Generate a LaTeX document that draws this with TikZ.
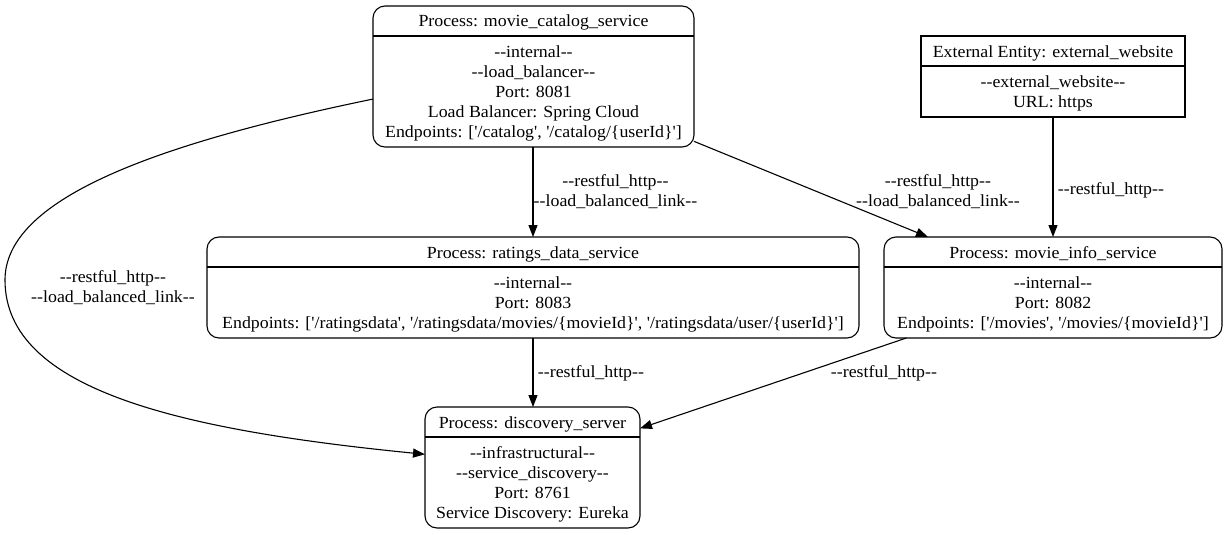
\documentclass[tikz,border=0pt]{standalone}
\usepackage{fontspec}
\newfontfamily\gv{Liberation Serif}[FakeStretch=1.05]
\usetikzlibrary{arrows.meta,calc}
\begin{document}
\begin{tikzpicture}[x=1pt,y=-1pt,
  box/.style={draw,line width=1.1pt,inner sep=0pt,outer sep=0pt},
  proc/.style={box,rounded corners=12pt},
  ttl/.style={anchor=base,inner sep=0pt,font=\gv\fontsize{17}{20}\selectfont},
  bodytxt/.style={anchor=base,inner sep=0pt,align=center,font=\gv\fontsize{17}{20}\selectfont},
  lbl/.style={inner sep=0pt,align=center,font=\gv\fontsize{17}{19.5}\selectfont},
  flow/.style={line width=1.1pt,-{Triangle[length=12pt,width=9pt]}},
  divline/.style={line width=1.1pt}]
\useasboundingbox (0,0) rectangle (1228,535);

% movie_catalog_service
\node[proc, minimum width=321pt, minimum height=141pt] (cat) at (533.5,76.5) {};
\draw[divline] ($(cat.north west)+(0,30)$) -- ($(cat.north east)+(0,30)$);
\node[ttl] (catT) at ($(cat.north)+(0,21)$) {Process: movie\_catalog\_service};
\node[bodytxt] (catB) at ($(cat.north)+(0,131)$) {-\kern0pt-internal-\kern0pt-\\-\kern0pt-load\_balancer-\kern0pt-\\Port: 8081\\Load Balancer: Spring Cloud\\Endpoints: ['/catalog', '/catalog/\{userId\}']};

% external_website
\node[box, minimum width=264pt, minimum height=81pt] (ext) at (1053,76.5) {};
\draw[divline] ($(ext.north west)+(0,30)$) -- ($(ext.north east)+(0,30)$);
\node[ttl] (extT) at ($(ext.north)+(0,21)$) {External Entity: external\_website};
\node[bodytxt] (extB) at ($(ext.north)+(0,71)$) {-\kern0pt-external\_website-\kern0pt-\\URL: https};

% ratings_data_service
\node[proc, minimum width=652pt, minimum height=101pt] (rat) at (533,287.5) {};
\draw[divline] ($(rat.north west)+(0,30)$) -- ($(rat.north east)+(0,30)$);
\node[ttl] (ratT) at ($(rat.north)+(0,21)$) {Process: ratings\_data\_service};
\node[bodytxt] (ratB) at ($(rat.north)+(0,91)$) {-\kern0pt-internal-\kern0pt-\\Port: 8083\\Endpoints: ['/ratingsdata', '/ratingsdata/movies/\{movieId\}', '/ratingsdata/user/\{userId\}']};

% movie_info_service
\node[proc, minimum width=338pt, minimum height=101pt] (info) at (1053,287.5) {};
\draw[divline] ($(info.north west)+(0,30)$) -- ($(info.north east)+(0,30)$);
\node[ttl] (infoT) at ($(info.north)+(0,21)$) {Process: movie\_info\_service};
\node[bodytxt] (infoB) at ($(info.north)+(0,91)$) {-\kern0pt-internal-\kern0pt-\\Port: 8082\\Endpoints: ['/movies', '/movies/\{movieId\}']};

% discovery_server
\node[proc, minimum width=215pt, minimum height=121pt] (disc) at (532.5,467.5) {};
\draw[divline] ($(disc.north west)+(0,30)$) -- ($(disc.north east)+(0,30)$);
\node[ttl] (discT) at ($(disc.north)+(0,21)$) {Process: discovery\_server};
\node[bodytxt] (discB) at ($(disc.north)+(0,111)$) {-\kern0pt-infrastructural-\kern0pt-\\-\kern0pt-service\_discovery-\kern0pt-\\Port: 8761\\Service Discovery: Eureka};

% connectors
\draw[flow] (cat.south -| rat.north) -- (rat.north);
\node[lbl] (l1) at (615.5,191.5) {-\kern0pt-restful\_http-\kern0pt-\\-\kern0pt-load\_balanced\_link-\kern0pt-};

\draw[flow] (cat.-22) -- (info.158);
\node[lbl] (l2) at (938,191.5) {-\kern0pt-restful\_http-\kern0pt-\\-\kern0pt-load\_balanced\_link-\kern0pt-};

\draw[flow] (ext.south) -- (info.north);
\node[lbl] (l3) at (1111,190) {-\kern0pt-restful\_http-\kern0pt-};

\coordinate (leftmost) at (5,280);
\draw[flow] (cat.188) .. controls (150,145) and (5,200) .. (leftmost)
  .. controls (5,390) and (180,430) .. (disc.173);
\node[lbl] (l4) at (113,287.5) {-\kern0pt-restful\_http-\kern0pt-\\-\kern0pt-load\_balanced\_link-\kern0pt-};

\draw[flow] (rat.south) -- (rat.south |- disc.north);
\node[lbl] (l5) at (591,373) {-\kern0pt-restful\_http-\kern0pt-};

\draw[flow] (info.199.5) -- (disc.20);
\node[lbl] (l6) at (884,373) {-\kern0pt-restful\_http-\kern0pt-};
\end{tikzpicture}
\end{document}
